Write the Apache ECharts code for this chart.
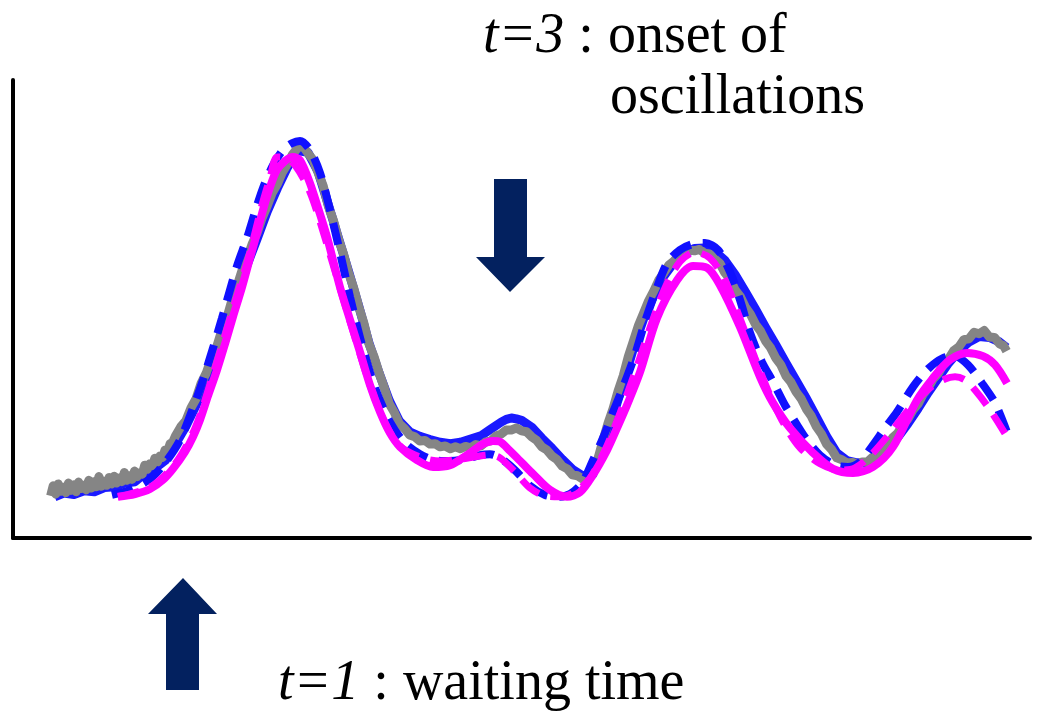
<!DOCTYPE html>
<html>
<head>
<meta charset="utf-8">
<title>Oscillation onset</title>
<script src="https://cdn.jsdelivr.net/npm/echarts@6/dist/echarts.min.js"></script>
<style>
  html, body { margin: 0; padding: 0; background: #ffffff; }
  #chart { width: 1052px; height: 714px; }
</style>
</head>
<body>
<div id="chart"></div>
<script>
// Measured trace (noisy), time 0-100, signal 0-100
const grayTrace = [
  [3.70,9.2],[3.95,11.4],[4.20,9.6],[4.45,11.8],[4.70,10.2],[4.95,11.1],[5.20,9.9],[5.45,12.0],[5.70,10.4],[5.95,11.6],
  [6.20,10.1],[6.45,12.2],[6.70,10.8],[6.95,11.5],[7.20,10.5],[7.45,12.6],[7.70,10.9],[7.95,12.3],[8.20,11.2],[8.45,13.4],
  [8.70,11.3],[8.95,12.4],[9.20,11.5],[9.45,13.2],[9.70,11.8],[9.95,13.5],[10.20,12.0],[10.45,13.1],[10.70,12.3],[10.95,14.3],
  [11.20,12.6],[11.45,13.6],[11.70,12.8],[11.95,14.6],[12.20,13.4],[12.45,14.2],[12.70,13.9],[12.95,15.9],[13.20,15.0],[13.45,16.2],
  [13.70,15.8],[13.95,17.4],[14.20,16.6],[14.45,17.9],[14.70,17.6],[14.95,19.2],[15.20,18.9],[15.45,20.6],[15.70,20.9],[16.0,22.4],
  [16.5,24.3],[17.0,25.6],[17.5,28.4],[18.0,30.4],
  [18.5,33.8],[19.0,36.0],[19.5,39.2],[20.0,41.5],[20.5,45.1],[21.0,47.8],[21.5,51.7],[22.0,54.8],[22.5,58.3],[23.0,60.9],
  [23.5,64.1],[24.0,66.6],[24.5,69.9],[25.0,72.5],[25.5,75.4],[26.0,77.3],[26.5,79.9],[27.0,81.7],[27.5,83.8],[28.0,85.2],
  [28.5,85.6],[29.0,84.0],[29.5,82.6],[30.0,79.8],[30.5,76.9],[31.0,72.5],[31.5,69.4],[32.0,65.3],[32.5,62.0],[33.0,57.9],
  [33.5,54.6],[34.0,50.5],[34.5,46.9],[35.0,42.4],[35.5,39.6],[36.0,36.0],[36.5,32.9],[37.0,29.3],[37.5,27.4],[38.0,24.9],
  [38.5,23.9],[39.0,22.5],[39.5,22.1],[40.0,21.2],[40.5,21.3],[41.0,20.5],[41.5,20.6],[42.0,19.9],[42.5,20.1],[43.0,19.5],
  [43.5,19.9],[44.0,19.5],[44.5,20.0],[45.0,19.7],[45.5,20.4],[46.0,20.1],[46.5,21.0],[47.0,21.2],[47.5,22.3],[48.0,22.7],
  [48.5,23.6],[49.0,23.6],[49.5,24.0],[50.0,23.4],[50.5,23.2],[51.0,22.1],[51.5,21.3],[52.0,19.9],[52.5,19.2],[53.0,17.9],
  [53.5,17.1],[54.0,15.7],[54.5,15.1],[55.0,13.8],[55.5,13.6],[56.0,12.9],[56.5,13.4],[57.0,14.0],[57.5,17.2],[58.0,21.2],
  [58.5,25.0],[59.0,28.2],[59.5,32.1],[60.0,35.4],[60.5,39.6],[61.0,43.0],[61.5,46.4],[62.0,49.1],[62.5,51.8],[63.0,53.9],
  [63.5,56.3],[64.0,57.9],[64.5,59.6],[65.0,60.5],[65.5,61.7],[66.0,62.0],[66.5,62.9],[67.0,62.7],[67.5,63.0],[68.0,62.2],
  [68.5,62.0],[69.0,60.9],[69.5,60.0],[70.0,57.9],[70.5,56.5],[71.0,54.2],[71.5,52.8],[72.0,50.5],[72.5,48.9],[73.0,46.7],
  [73.5,45.2],[74.0,43.0],[74.5,41.5],[75.0,39.3],[75.5,37.8],[76.0,35.4],[76.5,34.0],[77.0,31.9],[77.5,30.4],[78.0,28.2],
  [78.5,26.6],[79.0,24.3],[79.5,22.7],[80.0,20.5],[80.5,19.3],[81.0,17.5],[81.5,17.1],[82.0,16.4],[82.5,16.5],[83.0,16.2],
  [83.5,16.6],[84.0,16.6],[84.5,17.6],[85.0,17.9],[85.5,19.4],[86.0,20.1],[86.5,21.9],[87.0,22.9],[87.5,24.8],[88.0,26.0],
  [88.5,28.0],[89.0,29.3],[89.5,31.4],[90.0,32.8],[90.5,34.8],[91.0,36.0],[91.5,38.0],[92.0,39.1],[92.5,40.9],[93.0,41.7],
  [93.5,43.3],[94.0,43.5],[94.5,44.9],[95.0,44.6],[95.5,45.3],[96.0,43.9],[96.5,43.8],[97.0,42.4],[97.4,42.0],[97.7,40.8]
];

// Second measured trace (noisy), drawn beneath the gray one
const blueTrace = [
  [4.1,9.0],[5,9.8],[6,9.5],[7,10.3],[8,10.1],[9,11.0],[10,11.2],[11,12.0],[12,12.3],[13,14.2],
  [14,15.3],[15,17.0],[16,20.6],[17,24.4],[18,29.0],[19,34.4],[20,40.0],[21,46.2],[22,53.2],[23,59.5],
  [24,65.3],[25,71.3],[26,76.4],[27,81.0],[28,84.6],[29,84.2],[30,80.0],[31,72.8],[32,65.5],[33,58.2],
  [34,50.6],[35,42.6],[36,36.0],[37,30.0],[38,25.5],[39,23.2],[40,22.2],[41,21.5],[42,20.9],[43,20.6],
  [44,20.9],[45,21.6],[46,22.3],[47,23.8],[48,25.3],[48.5,25.9],[49,26.2],[49.5,26.0],[50,25.7],[51,24.2],
  [52,21.8],[53,19.6],[54,17.2],[55,15.0],[56,13.6],[57,13.8],[58,19.8],[59,26.6],[60,33.8],[61,41.4],
  [62,47.8],[63,52.9],[64,57.2],[65,60.2],[66,62.0],[67,63.2],[68,63.3],[69,62.6],[70,60.6],[71,57.5],
  [72,53.8],[73,50.0],[74,46.0],[75,42.2],[76,38.2],[77,34.4],[78,30.5],[79,26.4],[80,22.2],[81,18.6],
  [82,16.9],[83,16.4],[84,16.4],[85,17.4],[86,19.3],[87,22.0],[88,25.0],[89,28.3],[90,31.8],[91,35.0],
  [92,38.2],[93,40.8],[94,42.8],[95,44.0],[96,43.8],[97,42.8],[97.7,41.6]
];

// Model A (dashed blue)
const blueModel = [
  [9.73,9.4],[11.50,10.5],[13.47,12.9],[14.95,16.4],[16.42,21.4],[17.70,28.4],[18.68,34.5],[19.67,41.5],[20.55,48.0],
  [22.03,59.4],[23.01,65.5],[23.80,71.2],[24.58,76.4],[25.57,81.4],[26.55,84.7],[27.43,86.2],[28.22,86.7],[29.20,84.7],
  [30.19,79.7],[31.17,71.6],[32.15,62.4],[33.14,52.6],[34.32,42.1],[35.60,32.8],[37.07,25.3],[38.54,20.7],[40.02,18.3],
  [41.49,17.0],[42.97,16.8],[44.44,17.2],[45.92,18.1],[46.90,18.3],[47.89,17.5],[49.36,14.8],[50.84,11.4],[52.31,9.4],
  [53.59,9.0],[54.77,9.6],[55.95,12.0],[57.03,17.0],[58.01,21.8],[59.00,27.5],[59.88,32.3],[61.16,40.0],[62.14,47.2],
  [63.13,53.5],[64.31,60.0],[65.58,62.9],[66.86,64.2],[68.04,64.4],[69.32,62.9],[70.50,58.1],[71.48,52.0],[72.47,44.8],
  [73.65,38.4],[74.73,34.1],[75.91,29.0],[77.09,24.7],[78.07,21.4],[79.35,18.1],[80.83,15.9],[82.10,15.5],[83.28,16.6],
  [84.56,20.3],[85.74,24.0],[86.92,27.5],[88.50,33.0],[89.97,36.9],[91.45,39.3],[92.63,39.7],[93.90,37.8],[95.28,33.8],
  [96.56,29.5],[97.74,23.1]
];

// Model B (solid magenta)
const magentaModel = [
  [10.32,9.0],[12.00,9.6],[13.47,10.7],[14.75,12.7],[15.73,15.1],[16.91,18.8],[17.70,22.1],[18.39,25.8],[19.17,31.0],
  [20.06,36.7],[20.85,42.4],[21.63,48.3],[22.52,54.8],[23.30,61.1],[23.99,66.6],[24.58,71.6],[25.27,76.6],[25.96,80.4],
  [26.74,82.3],[27.53,83.2],[28.22,82.5],[29.20,77.5],[29.99,72.1],[30.88,65.7],[32.15,54.8],[33.14,47.6],[34.12,40.6],
  [35.10,33.4],[36.09,27.5],[37.07,22.9],[38.05,19.9],[39.72,17.0],[41.30,15.5],[42.97,15.9],[44.64,18.1],[46.21,20.5],
  [47.20,21.2],[47.89,21.0],[48.87,19.0],[50.05,16.4],[51.13,14.0],[52.80,10.5],[54.47,9.0],[55.75,10.0],[57.03,13.8],
  [58.41,19.2],[59.39,24.0],[60.37,29.0],[61.65,36.2],[63.32,48.0],[65.29,56.3],[66.86,59.4],[68.24,59.0],[69.52,55.2],
  [71.48,46.1],[73.45,35.2],[74.73,29.5],[76.40,24.0],[78.66,18.6],[80.63,15.1],[82.60,14.2],[84.56,15.5],[86.53,19.9],
  [88.89,30.1],[90.46,34.9],[92.13,38.9],[93.81,40.4],[95.38,39.7],[96.56,37.8],[97.74,33.8]
];

// Model C (dashed magenta)
const magentaModelAlt = [
  [10.32,9.0],[13.47,11.1],[15.93,16.2],[17.90,24.0],[19.86,37.1],[21.83,51.5],[23.30,62.4],[24.48,72.7],[25.27,78.6],
  [25.96,83.2],[26.74,83.0],[27.73,81.4],[29.20,75.5],[30.68,65.5],[32.15,54.6],[33.63,43.7],[35.10,33.4],[36.58,25.1],
  [38.05,20.1],[40.02,17.7],[41.99,16.8],[43.95,17.2],[45.92,17.9],[46.90,18.1],[47.89,17.5],[49.36,14.4],[50.84,10.9],
  [52.31,9.2],[53.79,9.0],[55.26,10.0],[56.74,13.1],[58.21,19.2],[59.69,27.3],[61.16,36.2],[62.64,45.9],[64.11,54.6],
  [65.58,60.3],[67.06,62.4],[68.53,61.1],[70.01,56.3],[71.48,48.0],[72.96,39.3],[74.43,31.2],[75.91,24.5],[77.39,19.7],
  [79.35,16.2],[81.32,14.8],[82.79,15.3],[84.27,17.9],[86.23,22.9],[88.20,28.4],[90.17,32.8],[91.64,34.7],[92.63,35.2],
  [93.61,34.5],[94.59,32.3],[96.07,28.0],[97.74,22.1]
];

const labelTop = ['t=3', ' : onset of', 'oscillations'];
const labelBottom = ['t=1', ' : waiting time'];

const SERIF = '"Liberation Serif", "DejaVu Serif", serif';
const ARROW = '#03215f';

const chart = echarts.init(document.getElementById('chart'), null, { renderer: 'canvas' });

function lineSeries(name, data, color, width, opts) {
  return Object.assign({
    name: name,
    type: 'line',
    data: data,
    symbol: 'none',
    showSymbol: false,
    clip: false,
    lineStyle: { color: color, width: width, cap: 'butt', join: 'round' },
    emphasis: { disabled: true }
  }, opts || {});
}

chart.setOption({
  animation: false,
  backgroundColor: '#ffffff',
  grid: { left: 13, right: 22, top: 80, bottom: 176 },
  xAxis: {
    type: 'value', min: 0, max: 100,
    axisLine: { show: true, onZero: false, lineStyle: { color: '#000', width: 4 } },
    axisTick: { show: false }, axisLabel: { show: false }, splitLine: { show: false }
  },
  yAxis: {
    type: 'value', min: 0, max: 100,
    axisLine: { show: true, onZero: false, lineStyle: { color: '#000', width: 4 } },
    axisTick: { show: false }, axisLabel: { show: false }, splitLine: { show: false }
  },
  series: [
    lineSeries('trace 2', blueTrace, '#1a1aff', 9, { z: 1 }),
    lineSeries('trace 1', grayTrace, '#858585', 9, { z: 2 }),
    lineSeries('model A', blueModel, '#1010ff', 8, { smooth: 0.3, z: 3,
      lineStyle: { color: '#1010ff', width: 8, type: [22, 12], cap: 'butt' } }),
    lineSeries('model C', magentaModelAlt, '#ff00ff', 8, { smooth: 0.3, z: 4,
      lineStyle: { color: '#ff00ff', width: 7, type: [22, 12], cap: 'butt' } }),
    lineSeries('model B', magentaModel, '#ff00ff', 8, { smooth: 0.3, z: 5 })
  ],
  graphic: [
    {
      type: 'polygon', z: 10,
      shape: { points: [[494,179],[527,179],[527,257],[545,257],[510,292],[476,257],[494,257]] },
      style: { fill: ARROW }
    },
    {
      type: 'polygon', z: 10,
      shape: { points: [[166,690],[199,690],[199,614],[217,614],[183,578],[148,614],[166,614]] },
      style: { fill: ARROW }
    },
    {
      type: 'text', z: 10, x: 483, y: 37,
      style: {
        text: '{i|' + labelTop[0] + '}' + labelTop[1],
        font: '56px ' + SERIF, fill: '#000', verticalAlign: 'middle',
        rich: { i: { fontStyle: 'italic', fontSize: 56, fontFamily: SERIF } }
      }
    },
    {
      type: 'text', z: 10, x: 610, y: 98,
      style: { text: labelTop[2], font: '56px ' + SERIF, fill: '#000', verticalAlign: 'middle' }
    },
    {
      type: 'text', z: 10, x: 278, y: 684,
      style: {
        text: '{i|' + labelBottom[0] + '}' + labelBottom[1],
        font: '56px ' + SERIF, fill: '#000', verticalAlign: 'middle',
        rich: { i: { fontStyle: 'italic', fontSize: 56, fontFamily: SERIF } }
      }
    }
  ]
});
</script>
</body>
</html>
